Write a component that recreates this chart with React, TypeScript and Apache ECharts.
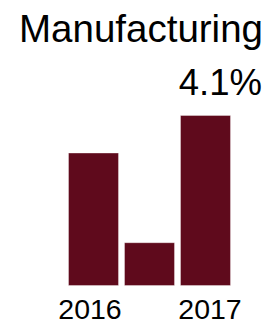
import React, { useEffect, useRef } from "react";
import * as echarts from "echarts";

const categories = ["2016", "", "2017"];
const values = [3.2, 1.05, 4.1];
const titleText = "Manufacturing";
const valueText = "4.1%";

export default function App() {
  const ref = useRef<HTMLDivElement>(null);
  useEffect(() => {
    if (!ref.current) return;
    const chart = echarts.init(ref.current, undefined, { renderer: "svg" });
    const font = "'Liberation Sans', Arial, sans-serif";
    const labelPads = [[0, 7, 0, 0], [0, 0, 0, 0], [0, 0, 0, 9]];
    chart.setOption({
      animation: false,
      grid: { left: 65.5, right: 274 - 233.5, top: 115, bottom: 42, containLabel: false },
      xAxis: {
        type: "category",
        data: categories.map((c, i) => ({ value: c, textStyle: { padding: labelPads[i] } })),
        axisLine: { show: false },
        axisTick: { show: false },
        axisLabel: { color: "#000", fontSize: 28.5, fontFamily: font, margin: 8, interval: 0 },
      },
      yAxis: {
        type: "value",
        min: 0,
        max: 4.1,
        show: false,
        splitLine: { show: false },
      },
      series: [
        {
          type: "bar",
          data: values,
          barCategoryGap: "9%",
          itemStyle: { color: "#5f0a1c", borderColor: "rgba(255,255,255,0.35)", borderWidth: 1 },
        },
      ],
      graphic: [
        {
          type: "text",
          x: 263,
          y: 28,
          style: {
            text: titleText,
            fontSize: 38.5,
            fontFamily: font,
            fill: "#000",
            textAlign: "right",
            textVerticalAlign: "middle",
          },
        },
        {
          type: "text",
          x: 262,
          y: 82,
          style: {
            text: valueText,
            fontSize: 36.5,
            fontFamily: font,
            fill: "#000",
            textAlign: "right",
            textVerticalAlign: "middle",
          },
        },
      ],
    });
    return () => chart.dispose();
  }, []);
  return <div ref={ref} style={{ width: 274, height: 328, position: "absolute", left: 0, top: 0 }} />;
}
